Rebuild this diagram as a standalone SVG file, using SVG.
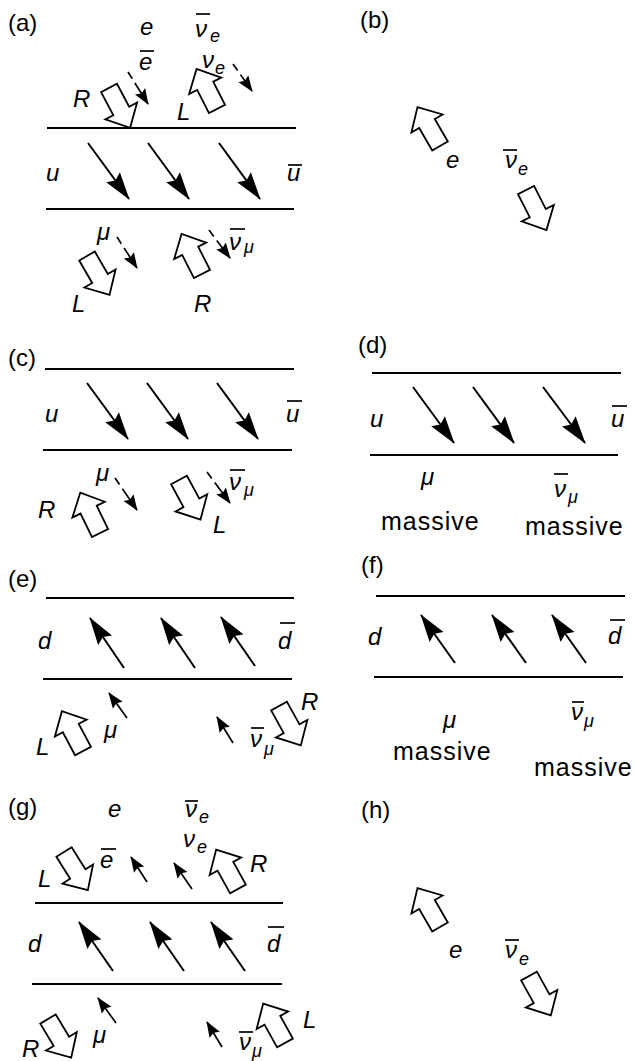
<svg xmlns="http://www.w3.org/2000/svg" xmlns:xlink="http://www.w3.org/1999/xlink" width="636" height="1061" viewBox="0 0 636 1061">
<style>
.bg{fill:#fff}
.rail{stroke:#000;stroke-width:2;fill:none}
.big{stroke:#000;stroke-width:2;fill:none;marker-end:url(#hbig)}
.sm{stroke:#000;stroke-width:1.7;fill:none;marker-end:url(#hsm)}
.dash{stroke:#000;stroke-width:1.7;fill:none;stroke-dasharray:8 5 60;marker-end:url(#hsm)}
.bar{stroke:#000;stroke-width:1.7}
.blk{fill:#fff;stroke:#000;stroke-width:1.8;stroke-linejoin:miter}
text{font-family:"Liberation Sans",Arial,sans-serif;fill:#000}
.pl{font-size:24px}
.it{font-size:24px;font-style:italic}
.sub{font-size:18px;font-style:italic}
.ms{font-size:25px;letter-spacing:1px}
</style>
<defs>
<marker id="hbig" markerUnits="userSpaceOnUse" viewBox="0 0 28 18" refX="27" refY="9" markerWidth="28" markerHeight="18" orient="auto">
<path d="M0,0.5 L28,9 L0,17.5 L4,9 z" fill="#000"/>
</marker>
<marker id="hsm" markerUnits="userSpaceOnUse" viewBox="0 0 16 13" refX="15" refY="6.5" markerWidth="16" markerHeight="13" orient="auto">
<path d="M0,0.5 L16,6.5 L0,12.5 L2.5,6.5 z" fill="#000"/>
</marker>
<polygon id="blk" class="blk" points="0,-9 26,-9 26,-18 45,0 26,18 26,9 0,9"/>
</defs>
<rect class="bg" x="0" y="0" width="636" height="1061"/>

<g id="panel-a">
<text class="pl" x="8" y="31">(a)</text>
<line class="rail" x1="47" y1="128" x2="296" y2="128"/>
<line class="rail" x1="46" y1="209" x2="294" y2="209"/>
<text class="it" x="46" y="181">u</text>
<text class="it" x="287" y="181">u</text><line class="bar" x1="288" y1="165" x2="302" y2="165"/>
<line class="big" x1="88" y1="143" x2="129" y2="199"/>
<line class="big" x1="148" y1="143" x2="189" y2="199"/>
<line class="big" x1="219" y1="143" x2="260" y2="199"/>
<text class="it" x="140" y="35">e</text>
<text class="it" x="139" y="70">e</text><line class="bar" x1="140" y1="51" x2="154" y2="51"/>
<text class="it" x="195" y="37">ν</text><text class="sub" x="210" y="42">e</text><line class="bar" x1="196" y1="14" x2="210" y2="14"/>
<text class="it" x="202" y="68">ν</text><text class="sub" x="215" y="74">e</text>
<text class="it" x="73" y="107">R</text>
<text class="it" x="177" y="120">L</text>
<use xlink:href="#blk" transform="translate(109,88) rotate(62)"/>
<use xlink:href="#blk" transform="translate(217,109) rotate(-117)"/>
<line class="dash" x1="128" y1="72" x2="148" y2="104"/>
<line class="dash" x1="233" y1="64" x2="252" y2="91"/>
<text class="it" x="97" y="240">μ</text>
<text class="it" x="229" y="250">ν</text><text class="sub" x="244" y="253">μ</text><line class="bar" x1="230" y1="229" x2="245" y2="229"/>
<line class="dash" x1="117" y1="237" x2="137" y2="268"/>
<line class="dash" x1="209" y1="230" x2="230" y2="258"/>
<use xlink:href="#blk" transform="translate(87,256) rotate(60)"/>
<use xlink:href="#blk" transform="translate(202,274) rotate(-117)"/>
<text class="it" x="72" y="312">L</text>
<text class="it" x="194" y="312">R</text>
</g>

<g id="panel-b">
<text class="pl" x="360" y="28">(b)</text>
<use xlink:href="#blk" transform="translate(440,146) rotate(-120)"/>
<text class="it" x="446" y="168">e</text>
<text class="it" x="505" y="168">ν</text><text class="sub" x="518" y="175">e</text><line class="bar" x1="503" y1="150" x2="517" y2="150"/>
<use xlink:href="#blk" transform="translate(526,190) rotate(63)"/>
</g>

<g id="panel-c">
<text class="pl" x="8" y="366">(c)</text>
<line class="rail" x1="45" y1="369" x2="294" y2="369"/>
<line class="rail" x1="43" y1="450" x2="292" y2="450"/>
<text class="it" x="45" y="422">u</text>
<text class="it" x="286" y="422">u</text><line class="bar" x1="287" y1="401" x2="302" y2="401"/>
<line class="big" x1="87" y1="383" x2="128" y2="439"/>
<line class="big" x1="147" y1="383" x2="188" y2="439"/>
<line class="big" x1="217" y1="383" x2="258" y2="439"/>
<text class="it" x="96" y="481">μ</text>
<line class="dash" x1="115" y1="478" x2="137" y2="510"/>
<text class="it" x="229" y="490">ν</text><text class="sub" x="244" y="496">μ</text><line class="bar" x1="230" y1="470" x2="245" y2="470"/>
<line class="dash" x1="207" y1="472" x2="230" y2="503"/>
<use xlink:href="#blk" transform="translate(100,533) rotate(-116)"/>
<use xlink:href="#blk" transform="translate(179,480) rotate(61.5)"/>
<text class="it" x="38" y="518">R</text>
<text class="it" x="213" y="533">L</text>
</g>

<g id="panel-d">
<text class="pl" x="358" y="353">(d)</text>
<line class="rail" x1="372" y1="373" x2="621" y2="373"/>
<line class="rail" x1="370" y1="455" x2="618" y2="455"/>
<text class="it" x="370" y="427">u</text>
<text class="it" x="611" y="427">u</text><line class="bar" x1="612" y1="406" x2="627" y2="406"/>
<line class="big" x1="413" y1="387" x2="454" y2="443"/>
<line class="big" x1="473" y1="387" x2="514" y2="443"/>
<line class="big" x1="543" y1="387" x2="585" y2="443"/>
<text class="it" x="421" y="485">μ</text>
<text class="it" x="554" y="497">ν</text><text class="sub" x="568" y="503">μ</text><line class="bar" x1="554" y1="474" x2="568" y2="474"/>
<text class="ms" x="381" y="530">massive</text>
<text class="ms" x="525" y="535">massive</text>
</g>

<g id="panel-e">
<text class="pl" x="8" y="587">(e)</text>
<line class="rail" x1="46" y1="598" x2="294" y2="598"/>
<line class="rail" x1="43" y1="679" x2="292" y2="679"/>
<text class="it" x="38" y="649">d</text>
<text class="it" x="278" y="649">d</text><line class="bar" x1="280" y1="623" x2="295" y2="623"/>
<line class="big" x1="124" y1="668" x2="90" y2="618"/>
<line class="big" x1="195" y1="668" x2="161" y2="618"/>
<line class="big" x1="255" y1="666" x2="221" y2="617"/>
<line class="sm" x1="127" y1="718" x2="109" y2="693"/>
<line class="sm" x1="233" y1="743" x2="217" y2="717"/>
<text class="it" x="104" y="738">μ</text>
<text class="it" x="250" y="747">ν</text><text class="sub" x="264" y="755">μ</text><line class="bar" x1="251" y1="728" x2="264" y2="728"/>
<use xlink:href="#blk" transform="translate(83,751) rotate(-118)"/>
<use xlink:href="#blk" transform="translate(279,706) rotate(61)"/>
<text class="it" x="36" y="755">L</text>
<text class="it" x="301" y="710">R</text>
</g>

<g id="panel-f">
<text class="pl" x="361" y="573">(f)</text>
<line class="rail" x1="376" y1="596" x2="625" y2="596"/>
<line class="rail" x1="374" y1="677" x2="623" y2="677"/>
<text class="it" x="368" y="645">d</text>
<text class="it" x="608" y="644">d</text><line class="bar" x1="610" y1="620" x2="625" y2="620"/>
<line class="big" x1="455" y1="663" x2="421" y2="615"/>
<line class="big" x1="526" y1="663" x2="492" y2="615"/>
<line class="big" x1="586" y1="663" x2="552" y2="615"/>
<text class="it" x="443" y="728">μ</text>
<text class="it" x="571" y="720">ν</text><text class="sub" x="584" y="727">μ</text><line class="bar" x1="572" y1="702" x2="584" y2="702"/>
<text class="ms" x="393" y="760">massive</text>
<text class="ms" x="534" y="776">massive</text>
</g>

<g id="panel-g">
<text class="pl" x="8" y="815">(g)</text>
<text class="it" x="108" y="817">e</text>
<text class="it" x="185" y="817">ν</text><text class="sub" x="199" y="823">e</text><line class="bar" x1="185" y1="801" x2="198" y2="801"/>
<text class="it" x="183" y="847">ν</text><text class="sub" x="197" y="853">e</text>
<text class="it" x="100" y="868">e</text><line class="bar" x1="101" y1="849" x2="116" y2="849"/>
<text class="it" x="38" y="887">L</text>
<text class="it" x="250" y="872">R</text>
<use xlink:href="#blk" transform="translate(64,852) rotate(58)"/>
<use xlink:href="#blk" transform="translate(238,889) rotate(-119)"/>
<line class="sm" x1="147" y1="882" x2="131" y2="857"/>
<line class="sm" x1="192" y1="889" x2="174" y2="863"/>
<line class="rail" x1="35" y1="903" x2="283" y2="903"/>
<line class="rail" x1="32" y1="984" x2="282" y2="984"/>
<text class="it" x="28" y="952">d</text>
<text class="it" x="267" y="952">d</text><line class="bar" x1="268" y1="927" x2="284" y2="927"/>
<line class="big" x1="113" y1="971" x2="79" y2="922"/>
<line class="big" x1="184" y1="971" x2="150" y2="922"/>
<line class="big" x1="245" y1="971" x2="211" y2="922"/>
<line class="sm" x1="116" y1="1023" x2="98" y2="998"/>
<line class="sm" x1="222" y1="1047" x2="207" y2="1022"/>
<text class="it" x="93" y="1043">μ</text>
<text class="it" x="22" y="1057">R</text>
<use xlink:href="#blk" transform="translate(48,1019) rotate(59)"/>
<text class="it" x="239" y="1050">ν</text><text class="sub" x="252" y="1057">μ</text><line class="bar" x1="239" y1="1032" x2="253" y2="1032"/>
<use xlink:href="#blk" transform="translate(285,1043) rotate(-119)"/>
<text class="it" x="303" y="1028">L</text>
</g>

<g id="panel-h">
<text class="pl" x="361" y="818">(h)</text>
<use xlink:href="#blk" transform="translate(440,927) rotate(-120)"/>
<text class="it" x="449" y="958">e</text>
<text class="it" x="505" y="958">ν</text><text class="sub" x="519" y="965">e</text><line class="bar" x1="505" y1="940" x2="519" y2="940"/>
<use xlink:href="#blk" transform="translate(529,976) rotate(61)"/>
</g>
</svg>
